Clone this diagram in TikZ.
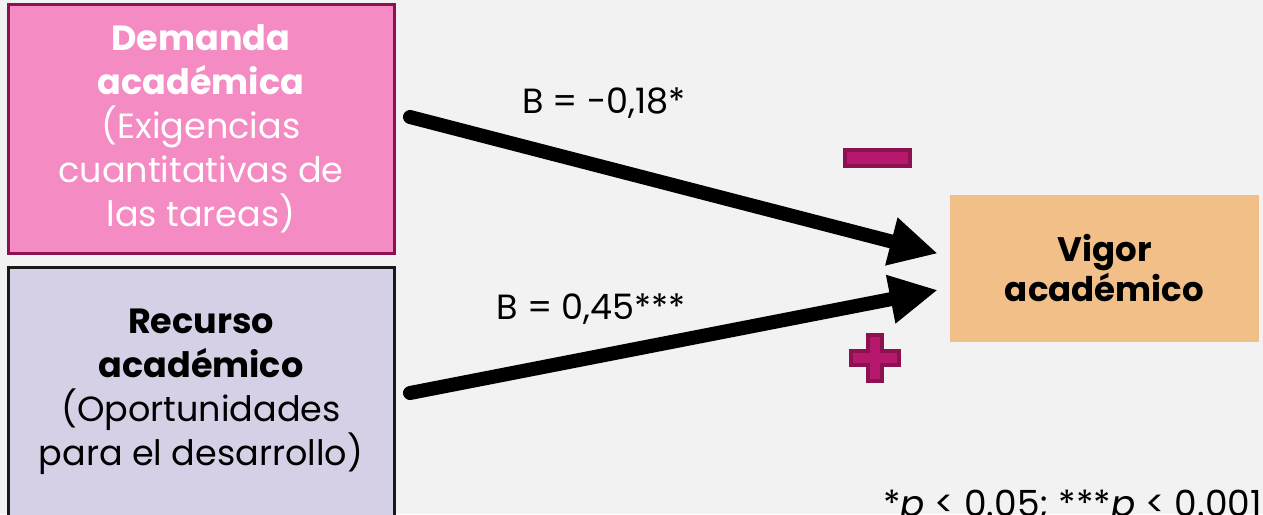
\documentclass[tikz,border=0pt]{standalone}
\usepackage{fontspec}
\setmainfont{Poppins}
\usepackage{tikz}
\usetikzlibrary{arrows.meta, positioning}

\definecolor{fondo}{HTML}{F2F2F2}
\definecolor{rosa}{HTML}{F48BC2}
\definecolor{granate}{HTML}{8C1150}
\definecolor{lila}{HTML}{D6D0E6}
\definecolor{naranja}{HTML}{F2BF88}
\definecolor{signo}{HTML}{B5186D}

\tikzset{
  caja/.style={rectangle, minimum width=386pt, minimum height=249pt,
    inner sep=0pt, outer sep=0pt, align=center,
    font=\fontsize{35}{44}\selectfont},
  flecha/.style={line width=14pt, line cap=round,
    -{Triangle[length=48pt, width=46pt]}},
  coef/.style={font=\fontsize{35}{40}\selectfont, anchor=base}
}

\begin{document}
\begin{tikzpicture}[x=1pt, y=-1pt]
    \fill[fondo] (0,0) rectangle (1263,514);
    \useasboundingbox (0,0) rectangle (1263,514);

    \node[caja, fill=rosa, draw=granate, line width=3pt, text=white] (dem) at (201,128.5)
      {\textbf{Demanda}\\ \textbf{académica}\\ (Exigencias\\ cuantitativas de\\ las tareas)};
    \node[caja, fill=lila, draw=black!90, line width=3pt] (rec) [below=14pt of dem]
      {\textbf{Recurso}\\ \textbf{académico}\\ (Oportunidades\\ para el desarrollo)};
    \node[rectangle, fill=naranja, minimum width=309pt, minimum height=147pt,
      align=center, font=\fontsize{34}{40}\selectfont] (vig) at (1104.5,268.5)
      {\textbf{Vigor}\\ \textbf{académico}};

    \path[flecha]
      ([xshift=16pt, yshift=11.5pt]dem.east) edge ([xshift=-12pt, yshift=15pt]vig.west)
      ([xshift=16pt, yshift=-1.5pt]rec.east) edge ([xshift=-12pt, yshift=-21.5pt]vig.west);

    \node[coef] (b1) at (604,113) {B = -0,18*};
    \node[coef] (b2) at (591,319) {B = 0,45***};

    % signos
    \draw[fill=signo, draw=granate, line width=4.5pt] (845,150) rectangle (910,166);
    \draw[fill=signo, draw=granate, line width=4pt, line join=miter]
      (868,335) -- (882,335) -- (882,351) -- (899,351) -- (899,365) -- (882,365)
      -- (882,381) -- (868,381) -- (868,365) -- (851,365) -- (851,351) -- (868,351) -- cycle;

    \node[anchor=base east, font=\fontsize{36}{40}\selectfont, inner sep=0pt] (nota) at (1262,516)
      {*\textit{p} < 0.05; ***\textit{p} < 0.001};
\end{tikzpicture}
\end{document}
